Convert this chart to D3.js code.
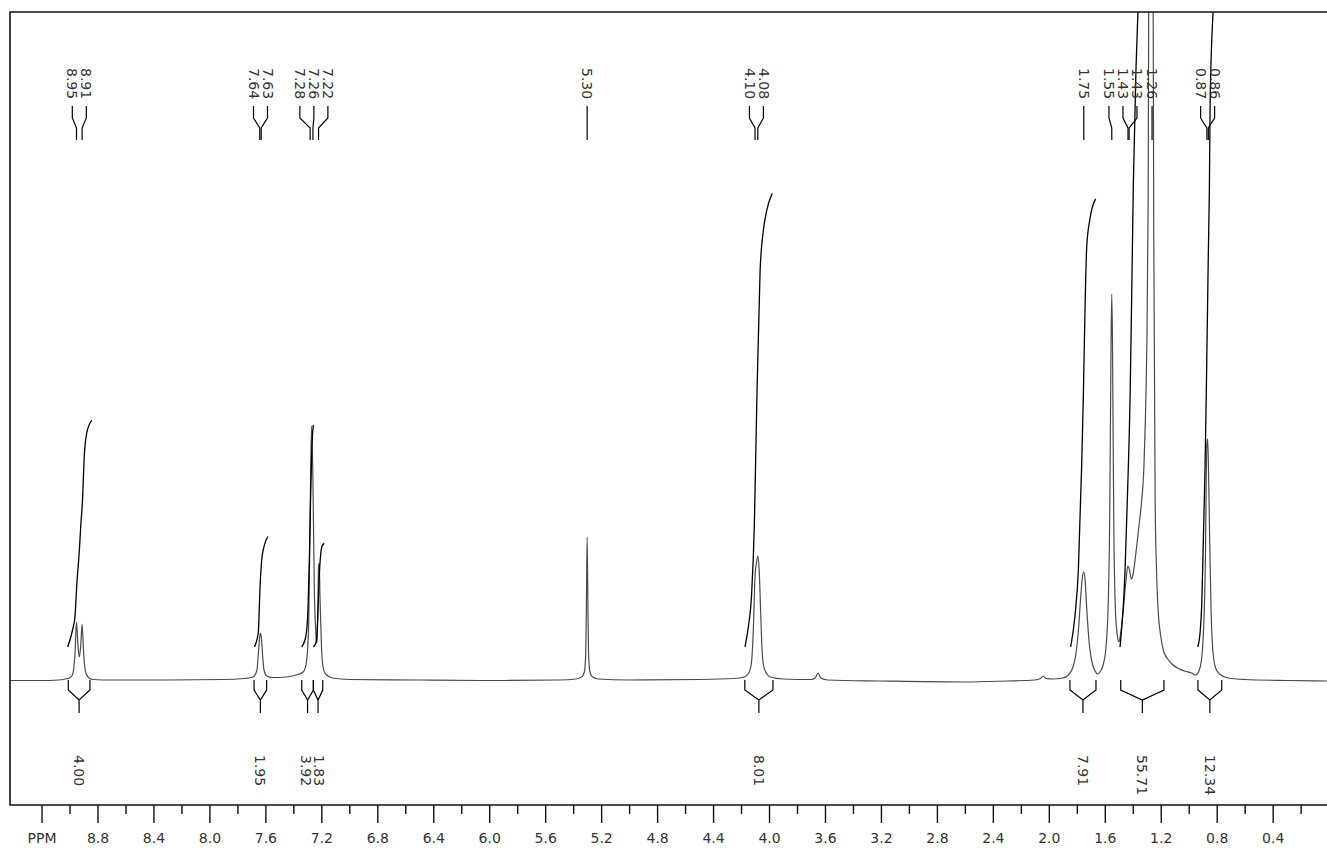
<!DOCTYPE html>
<html>
<head>
<meta charset="utf-8">
<script src="https://cdn.jsdelivr.net/npm/d3@7"></script>
<style>
  html, body { margin: 0; padding: 0; background: #fff; }
  svg { display: block; }
  text { font-family: "DejaVu Sans", Verdana, sans-serif; fill: #333; }
</style>
</head>
<body>
<svg id="chart" width="1327" height="848"></svg>
<script>
(function (d3) {
  'use strict';

  // spectrum trace: [ppm, intensity]
  const spectrum = [
    [9.42, 0.5], [9.20, 0.5], [9.08, 1], [9.03, 2], [9.00, 3], [8.98, 6], [8.97, 12],
    [8.96, 30], [8.95, 59], [8.94, 36], [8.93, 24], [8.92, 35], [8.91, 57], [8.90, 30],
    [8.89, 13], [8.88, 7], [8.86, 3], [8.83, 1.5], [8.70, 1], [8.30, 1], [7.90, 1.5],
    [7.75, 2.5], [7.70, 3.5], [7.68, 5], [7.66, 11], [7.65, 28], [7.64, 45], [7.635, 48],
    [7.63, 45], [7.62, 26], [7.61, 11], [7.59, 5], [7.55, 3.5], [7.45, 4], [7.38, 6],
    [7.33, 9], [7.31, 16], [7.30, 28], [7.29, 60], [7.28, 170], [7.27, 255], [7.26, 200],
    [7.25, 90], [7.24, 50], [7.235, 38], [7.23, 42], [7.225, 70], [7.22, 115], [7.215, 118],
    [7.21, 85], [7.20, 38], [7.19, 16], [7.17, 7], [7.12, 3], [7.00, 1.5], [6.50, 1],
    [6.00, 0.5], [5.50, 1], [5.38, 2], [5.34, 4], [5.32, 9], [5.31, 28], [5.305, 80],
    [5.30, 144], [5.295, 80], [5.29, 28], [5.28, 9], [5.26, 4], [5.22, 2], [5.00, 1],
    [4.50, 1.5], [4.25, 2.5], [4.18, 4], [4.15, 7], [4.13, 14], [4.12, 28], [4.11, 60],
    [4.10, 105], [4.09, 118], [4.08, 125], [4.07, 110], [4.06, 70], [4.05, 32], [4.04, 16],
    [4.02, 8], [3.99, 4], [3.90, 2], [3.70, 1.5], [3.67, 3], [3.65, 8], [3.63, 3],
    [3.58, 1], [3.20, 0], [2.60, -1], [2.30, 0], [2.10, 1], [2.06, 2.5], [2.04, 5],
    [2.02, 2.5], [1.97, 2], [1.90, 3], [1.86, 6], [1.83, 13], [1.81, 24], [1.79, 48],
    [1.77, 88], [1.76, 104], [1.75, 109], [1.74, 100], [1.73, 75], [1.71, 36], [1.69, 18],
    [1.67, 10], [1.65, 7], [1.63, 10], [1.61, 17], [1.59, 36], [1.575, 80], [1.565, 160],
    [1.56, 250], [1.555, 340], [1.55, 387], [1.545, 340], [1.54, 240], [1.535, 150],
    [1.525, 75], [1.51, 45], [1.50, 39], [1.49, 44], [1.47, 68], [1.45, 98], [1.435, 115],
    [1.425, 112], [1.41, 102], [1.40, 105], [1.38, 125], [1.36, 150], [1.34, 175],
    [1.32, 215], [1.31, 260], [1.30, 330], [1.29, 480], [1.28, 1000], [1.27, 1650],
    [1.26, 1000], [1.25, 450], [1.24, 180], [1.23, 110], [1.22, 74], [1.20, 45], [1.18, 30],
    [1.15, 22], [1.12, 17], [1.08, 13], [1.03, 10], [0.98, 8], [0.95, 6], [0.93, 9],
    [0.91, 20], [0.90, 35], [0.89, 65], [0.88, 130], [0.875, 200], [0.87, 238], [0.865, 242],
    [0.86, 222], [0.85, 140], [0.84, 70], [0.83, 35], [0.81, 14], [0.78, 7], [0.72, 3],
    [0.60, 1.5], [0.30, 0.5], [0.01, 0]
  ];

  // picked peaks (labels along the top)
  const peakPpm = [8.95, 8.91, 7.64, 7.63, 7.28, 7.26, 7.22, 5.30, 4.10, 4.08,
                   1.75, 1.55, 1.434, 1.426, 1.262, 0.87, 0.86];

  // integration regions [from, to] in ppm and their values
  const integralRegions = [
    [9.009, 8.854], [7.681, 7.591], [7.340, 7.257], [7.257, 7.190],
    [4.173, 3.972], [1.849, 1.663], [1.486, 1.177], [0.934, 0.764]
  ];
  const integralValues = [4.00, 1.95, 3.92, 1.83, 8.01, 7.91, 55.71, 12.34];

  // integral traces: [ppm, running integral]
  const integralCurves = [
    [[9.013, 0], [8.973, 0.36], [8.961, 0.53], [8.949, 1.06], [8.930, 1.70], [8.920, 2.12],
     [8.906, 2.65], [8.896, 3.30], [8.877, 3.78], [8.841, 4.00]],
    [[7.679, 0], [7.651, 0.25], [7.638, 1.07], [7.626, 1.54], [7.610, 1.77], [7.583, 1.95]],
    [[7.340, 0], [7.310, 0.2], [7.295, 0.7], [7.285, 1.6], [7.277, 2.6], [7.268, 3.5], [7.257, 3.92]],
    [[7.257, 0], [7.236, 0.1], [7.226, 0.5], [7.216, 1.2], [7.206, 1.6], [7.195, 1.78], [7.179, 1.83]],
    [[4.172, 0], [4.148, 0.35], [4.124, 0.95], [4.105, 2.15], [4.088, 4.24], [4.064, 6.63],
     [4.041, 7.34], [4.017, 7.70], [3.977, 8.01]],
    [[1.844, 0], [1.813, 0.55], [1.789, 1.35], [1.765, 3.22], [1.753, 4.45], [1.741, 6.0],
     [1.729, 7.07], [1.706, 7.56], [1.665, 7.91]],
    [[1.491, 0], [1.455, 1.36], [1.439, 2.58], [1.419, 4.43], [1.407, 6.3], [1.396, 8.15],
     [1.377, 10.2], [1.360, 11.4], [1.33, 14], [1.29, 22], [1.27, 35], [1.25, 50], [1.22, 54],
     [1.177, 55.71]],
    [[0.936, 0], [0.919, 0.25], [0.907, 0.74], [0.895, 1.94], [0.883, 3.2], [0.871, 5.05],
     [0.860, 6.92], [0.852, 8.16], [0.847, 9.6], [0.824, 11.3], [0.80, 12.0], [0.764, 12.34]]
  ];

  const majorTicks = [9.2, 8.8, 8.4, 8.0, 7.6, 7.2, 6.8, 6.4, 6.0, 5.6, 5.2, 4.8, 4.4,
                      4.0, 3.6, 3.2, 2.8, 2.4, 2.0, 1.6, 1.2, 0.8, 0.4];
  const minorTicks = [9.0, 8.6, 8.2, 7.8, 7.4, 7.0, 6.6, 6.2, 5.8, 5.4, 5.0, 4.6, 4.2,
                      3.8, 3.4, 3.0, 2.6, 2.2, 1.8, 1.4, 1.0, 0.6, 0.2];

  const INT_BASE = 34;        // integral traces start this far above the baseline
  const INT_PER_UNIT = 56.65; // intensity units per integral unit

  const svg = d3.select('#chart');
  const W = 1327;
  const frame = { left: 10, top: 12, bottom: 805 };

  const x = d3.scaleLinear().domain([8.8, 0.4]).range([97.5, 1272.66]);
  const y = d3.scaleLinear().domain([0, 669]).range([681, 12]);
  const y0 = y(0);

  svg.append('defs').append('clipPath').attr('id', 'plotClip')
    .append('rect')
    .attr('x', frame.left).attr('y', frame.top)
    .attr('width', W - frame.left).attr('height', frame.bottom - frame.top);

  const plot = svg.append('g').attr('clip-path', 'url(#plotClip)');

  // spectrum
  const line = d3.line()
    .x(d => x(d[0]))
    .y(d => y(d[1]))
    .curve(d3.curveMonotoneX);

  plot.append('path')
    .datum(spectrum)
    .attr('fill', 'none')
    .attr('stroke', '#4a4a4a')
    .attr('stroke-width', 1.2)
    .attr('d', line);

  // integral traces
  const intLine = d3.line()
    .x(d => x(d[0]))
    .y(d => y(INT_BASE + d[1] * INT_PER_UNIT))
    .curve(d3.curveMonotoneX);

  plot.selectAll('path.integral')
    .data(integralCurves)
    .enter()
    .append('path')
    .attr('class', 'integral')
    .attr('fill', 'none')
    .attr('stroke', '#000')
    .attr('stroke-width', 1.3)
    .attr('d', intLine);

  // spread overlapping labels apart, keeping groups centred on their targets
  const dodge = (targets, gap) => {
    let blocks = targets.map((t) => ({ n: 1, sum: t }));
    const start = (b) => b.sum / b.n - (b.n - 1) * gap / 2;
    let merged = true;
    while (merged) {
      merged = false;
      for (let i = 0; i < blocks.length - 1; i++) {
        const a = blocks[i], b = blocks[i + 1];
        if (start(a) + a.n * gap > start(b)) {
          blocks.splice(i, 2, { n: a.n + b.n, sum: a.sum + b.sum });
          merged = true;
          break;
        }
      }
    }
    const out = [];
    blocks.forEach((b) => {
      for (let k = 0; k < b.n; k++) out.push(start(b) + k * gap);
    });
    return out;
  };

  // peak labels and leaders
  const peakX = peakPpm.map(p => x(p));
  const labelX = dodge(peakX, 14);

  const leaders = svg.append('g');
  peakPpm.forEach((p, i) => {
    leaders.append('path')
      .attr('fill', 'none')
      .attr('stroke', '#000')
      .attr('stroke-width', 1.2)
      .attr('d', `M${labelX[i]},106 V118 L${peakX[i]},128 V140`);
    leaders.append('text')
      .attr('transform', `translate(${labelX[i]},68) rotate(90)`)
      .attr('dy', '0.35em')
      .attr('font-size', 14)
      .text(d3.format('.2f')(p));
  });

  // integral brackets and values
  const brackets = svg.append('g');
  const centers = integralRegions.map(r => (x(r[0]) + x(r[1])) / 2);
  const intLabelX = dodge(centers, 13);
  integralRegions.forEach((r, i) => {
    const x1 = x(r[0]), x2 = x(r[1]), xc = centers[i];
    brackets.append('path')
      .attr('fill', 'none')
      .attr('stroke', '#000')
      .attr('stroke-width', 1.2)
      .attr('d', `M${x1},${y0 - 1} V${y0 + 9} L${xc},${y0 + 19} L${x2},${y0 + 9} V${y0 - 1} M${xc},${y0 + 19} V${y0 + 32}`);
    brackets.append('text')
      .attr('transform', `translate(${intLabelX[i]},755) rotate(90)`)
      .attr('dy', '0.35em')
      .attr('font-size', 14)
      .text(d3.format('.2f')(integralValues[i]));
  });

  // frame
  svg.append('path')
    .attr('fill', 'none')
    .attr('stroke', '#111')
    .attr('stroke-width', 1.6)
    .attr('d', `M${W + 5},${frame.top} H${frame.left} V${frame.bottom} H${W + 5}`);

  // ppm axis
  const styleAxis = (g) => {
    g.select('.domain').remove();
    g.selectAll('.tick line').attr('stroke', '#111').attr('stroke-width', 1.4);
    g.selectAll('.tick text')
      .attr('font-size', 14)
      .attr('font-family', '"DejaVu Sans", Verdana, sans-serif')
      .attr('fill', '#333');
  };

  svg.append('g')
    .attr('transform', `translate(0,${frame.bottom})`)
    .call(d3.axisBottom(x).tickValues(minorTicks).tickSize(9).tickFormat(''))
    .call(styleAxis);

  svg.append('g')
    .attr('transform', `translate(0,${frame.bottom})`)
    .call(d3.axisBottom(x).tickValues(majorTicks).tickSize(18).tickPadding(10)
      .tickFormat(d => d > 9 ? 'PPM' : d.toFixed(1)))
    .call(styleAxis);

}(d3));
</script>
</body>
</html>
